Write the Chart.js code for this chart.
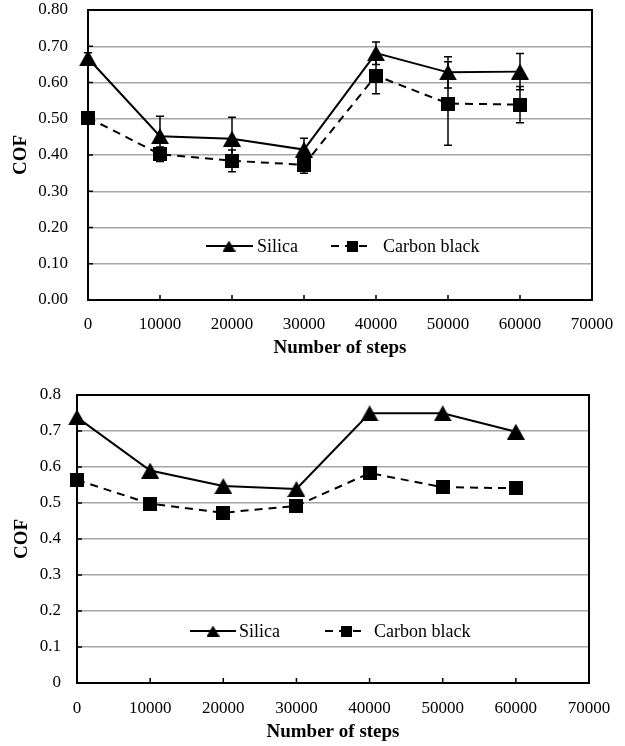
<!DOCTYPE html>
<html>
<head>
<meta charset="utf-8">
<script src="https://cdn.jsdelivr.net/npm/chart.js@4.4.0/dist/chart.umd.min.js"></script>
<style>
    body { margin: 0; background: #ffffff; }
    .box { position: absolute; left: 0; width: 625px; }
    #topBox { top: 0; height: 365px; }
    #bottomBox { top: 365px; height: 381px; }
</style>
</head>
<body>
<div class="box" id="topBox"><canvas id="topChart"></canvas></div>
<div class="box" id="bottomBox"><canvas id="bottomChart"></canvas></div>
<script>
// --- Data ---
const steps = [0, 10000, 20000, 30000, 40000, 50000, 60000];

// upper panel (with error bars)
const topSilica = [0.667, 0.452, 0.445, 0.415, 0.681, 0.628, 0.630];
const topSilicaErr = [0.015, 0.055, 0.059, 0.031, 0.031, 0.043, 0.050];
const topCarbon = [0.503, 0.402, 0.384, 0.373, 0.619, 0.542, 0.539];
const topCarbonErr = [0.010, 0.020, 0.030, 0.023, 0.050, 0.115, 0.050];

// lower panel
const bottomSilica = [0.738, 0.590, 0.547, 0.539, 0.749, 0.749, 0.698];
const bottomCarbon = [0.564, 0.498, 0.473, 0.492, 0.583, 0.544, 0.541];

const topYTicks = ['0.00', '0.10', '0.20', '0.30', '0.40', '0.50', '0.60', '0.70', '0.80'];
const bottomYTicks = ['0', '0.1', '0.2', '0.3', '0.4', '0.5', '0.6', '0.7', '0.8'];
const xTicks = ['0', '10000', '20000', '30000', '40000', '50000', '60000', '70000'];

const FONT = "'Liberation Serif', 'Times New Roman', serif";

// small marker images so they sit centred on the point
function makeTriangle(w, h) {
    const c = document.createElement('canvas');
    c.width = w;
    c.height = h;
    const g = c.getContext('2d');
    g.fillStyle = '#000';
    g.beginPath();
    g.moveTo(w / 2, 0);
    g.lineTo(w, h);
    g.lineTo(0, h);
    g.closePath();
    g.fill();
    return c;
}

function makeSquare(s) {
    const c = document.createElement('canvas');
    c.width = s;
    c.height = s;
    const g = c.getContext('2d');
    g.fillStyle = '#000';
    g.fillRect(0, 0, s, s);
    return c;
}

const triBig = makeTriangle(18, 16);
const sqBig = makeSquare(14);
const triSmall = makeTriangle(13, 11);
const sqSmall = makeSquare(11);

// frame round the plot + inward tick marks
const frameTicks = {
    id: 'frameTicks',
    beforeDatasetsDraw(chart) {
        const { ctx, chartArea: a, scales } = chart;
        ctx.save();
        ctx.strokeStyle = '#000';
        ctx.lineWidth = 2;
        ctx.strokeRect(a.left, a.top, a.right - a.left, a.bottom - a.top);
        ctx.lineWidth = 1.5;
        ctx.beginPath();
        scales.x.ticks.forEach(t => {
            const px = scales.x.getPixelForValue(t.value);
            ctx.moveTo(px, a.bottom);
            ctx.lineTo(px, a.bottom - 5);
        });
        scales.y.ticks.forEach(t => {
            const py = scales.y.getPixelForValue(t.value);
            ctx.moveTo(a.left, py);
            ctx.lineTo(a.left + 5, py);
        });
        ctx.stroke();
        ctx.restore();
    }
};

// vertical error bars with caps
const errorBars = {
    id: 'errorBars',
    beforeDatasetsDraw(chart) {
        const { ctx, scales } = chart;
        ctx.save();
        ctx.strokeStyle = '#000';
        ctx.lineWidth = 1.5;
        chart.data.datasets.forEach(ds => {
            if (!ds.errors) return;
            ds.data.forEach((p, i) => {
                const e = ds.errors[i];
                const px = scales.x.getPixelForValue(p.x);
                const yHi = scales.y.getPixelForValue(p.y + e);
                const yLo = scales.y.getPixelForValue(p.y - e);
                ctx.beginPath();
                ctx.moveTo(px, yHi);
                ctx.lineTo(px, yLo);
                ctx.moveTo(px - 4, yHi);
                ctx.lineTo(px + 4, yHi);
                ctx.moveTo(px - 4, yLo);
                ctx.lineTo(px + 4, yLo);
                ctx.stroke();
            });
        });
        ctx.restore();
    }
};

// legend drawn inside the plot area
const innerLegend = {
    id: 'innerLegend',
    afterDraw(chart, args, opts) {
        const { ctx } = chart;
        ctx.save();
        ctx.font = `18px ${FONT}`;
        ctx.fillStyle = '#000';
        ctx.textBaseline = 'middle';
        chart.data.datasets.forEach((ds, i) => {
            const it = opts.items[i];
            ctx.strokeStyle = '#000';
            ctx.lineWidth = 2;
            ctx.setLineDash(ds.borderDash || []);
            ctx.beginPath();
            ctx.moveTo(it.x0, opts.y);
            ctx.lineTo(it.x1, opts.y);
            ctx.stroke();
            ctx.setLineDash([]);
            const m = it.marker;
            ctx.drawImage(m, it.mx - m.width / 2, opts.y - m.height / 2);
            ctx.fillText(ds.label, it.tx, opts.y + 1);
        });
        ctx.restore();
    }
};

function toPoints(values) {
    return steps.map((x, i) => ({ x: x, y: values[i] }));
}

function makeDatasets(silica, carbon, silicaErr, carbonErr) {
    return [{
        label: 'Silica',
        data: toPoints(silica),
        errors: silicaErr,
        borderColor: '#000',
        borderWidth: 2,
        pointStyle: triBig,
        pointRadius: 8,
        tension: 0,
        clip: false
    }, {
        label: 'Carbon black',
        data: toPoints(carbon),
        errors: carbonErr,
        borderColor: '#000',
        borderWidth: 2,
        borderDash: [8, 6],
        pointStyle: sqBig,
        pointRadius: 8,
        tension: 0,
        clip: false
    }];
}

function makeOptions(cfg) {
    return {
        responsive: true,
        maintainAspectRatio: false,
        animation: false,
        layout: { padding: cfg.padding },
        plugins: {
            legend: { display: false },
            tooltip: { enabled: false },
            innerLegend: cfg.legend
        },
        scales: {
            x: {
                type: 'linear',
                min: 0,
                max: 70000,
                ticks: {
                    stepSize: 10000,
                    autoSkip: false,
                    maxRotation: 0,
                    padding: 0,
                    color: '#000',
                    font: { family: FONT, size: 17, lineHeight: 1 },
                    callback: (v, i) => xTicks[i]
                },
                // invisible grid, only used to push labels away from the axis
                grid: {
                    display: true,
                    color: 'rgba(0,0,0,0)',
                    drawOnChartArea: false,
                    drawTicks: true,
                    tickLength: cfg.xPad,
                    tickColor: 'rgba(0,0,0,0)'
                },
                border: { display: false },
                title: {
                    display: true,
                    text: 'Number of steps',
                    color: '#000',
                    font: { family: FONT, size: 19, weight: 'bold', lineHeight: 1 },
                    padding: { top: 0, bottom: cfg.xTitlePad }
                },
                afterFit(scale) { scale.height = cfg.xHeight; }
            },
            y: {
                min: 0,
                max: 0.8,
                ticks: {
                    stepSize: 0.1,
                    padding: 0,
                    color: '#000',
                    font: { family: FONT, size: 17, lineHeight: 0.9 },
                    callback: (v, i) => cfg.yTicks[i]
                },
                grid: {
                    color: '#a6a6a6',
                    lineWidth: 1.5,
                    drawTicks: true,
                    tickLength: cfg.yPad,
                    tickColor: 'rgba(0,0,0,0)'
                },
                border: { display: false },
                title: {
                    display: true,
                    text: 'COF',
                    color: '#000',
                    font: { family: FONT, size: 19, weight: 'bold', lineHeight: 1 },
                    padding: { top: cfg.yTitlePad, bottom: 0 }
                },
                afterFit(scale) { scale.width = cfg.yWidth; }
            }
        }
    };
}

function initTopChart(id) {
    const ctx = document.getElementById(id).getContext('2d');
    return new Chart(ctx, {
        type: 'line',
        data: { datasets: makeDatasets(topSilica, topCarbon, topSilicaErr, topCarbonErr) },
        options: makeOptions({
            padding: { left: 0, right: 33, top: 8, bottom: 0 },
            yWidth: 88, xHeight: 65,
            yPad: 20, xPad: 16,
            yTitlePad: 11.5, xTitlePad: 7.5,
            yTicks: topYTicks,
            legend: {
                y: 246,
                items: [
                    { x0: 206, x1: 253, mx: 229, tx: 257, marker: triSmall },
                    { x0: 331, x1: 373, mx: 352, tx: 383, marker: sqSmall }
                ]
            }
        }),
        plugins: [frameTicks, errorBars, innerLegend]
    });
}

function initBottomChart(id) {
    const ctx = document.getElementById(id).getContext('2d');
    return new Chart(ctx, {
        type: 'line',
        data: { datasets: makeDatasets(bottomSilica, bottomCarbon, null, null) },
        options: makeOptions({
            padding: { left: 0, right: 36, top: 30, bottom: 0 },
            yWidth: 77, xHeight: 63,
            yPad: 16, xPad: 17,
            yTitlePad: 12.5, xTitlePad: 4.5,
            yTicks: bottomYTicks,
            legend: {
                y: 266,
                items: [
                    { x0: 190, x1: 236, mx: 213, tx: 239, marker: triSmall },
                    { x0: 325, x1: 366, mx: 346, tx: 374, marker: sqSmall }
                ]
            }
        }),
        plugins: [frameTicks, errorBars, innerLegend]
    });
}

initTopChart('topChart');
initBottomChart('bottomChart');
</script>
</body>
</html>
